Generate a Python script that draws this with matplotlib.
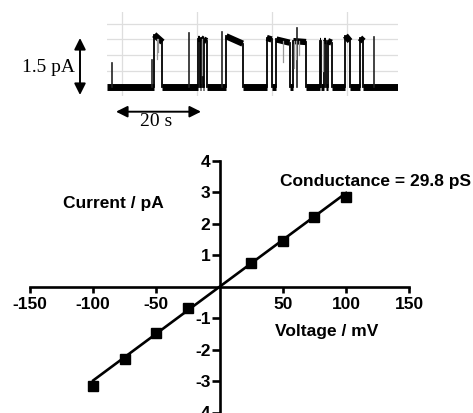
#!/usr/bin/env python3
# -*- coding: utf-8 -*-
"""单通道电流记录 + I-V 曲线"""

import numpy as np
import matplotlib
matplotlib.use('Agg')
import matplotlib.pyplot as plt

plt.rcParams['font.family'] = ['Liberation Sans', 'DejaVu Sans']
plt.rcParams['axes.unicode_minus'] = False

W, H = 473, 413

# ---- 上图：单通道记录 (时间 s, 电流 pA) ----
trace_start, trace_end = -4.0, 73.7
# 开放事件: (开始, 结束, 起始幅度, 结束幅度)
openings = [
    (8.6, 10.8, 1.65, 1.42),
    (20.4, 20.7, 1.50, 1.50),
    (21.0, 21.5, 1.55, 1.50),
    (21.8, 22.6, 1.50, 1.45),
    (27.8, 32.2, 1.60, 1.37),
    (38.6, 39.9, 1.55, 1.50),
    (41.2, 44.7, 1.50, 1.40),
    (45.7, 49.1, 1.45, 1.42),
    (52.8, 53.2, 1.45, 1.45),
    (53.8, 54.3, 1.45, 1.45),
    (54.9, 55.9, 1.45, 1.40),
    (59.6, 60.8, 1.62, 1.45),
    (63.5, 64.4, 1.55, 1.45),
]
# 短暂尖峰: (时间, 幅度)
spikes = [(-2.75, 0.75), (7.9, 0.87), (17.9, 1.70), (26.8, 1.73),
          (46.6, 1.85), (67.2, 1.57)]
# 部分关闭(灰色闪烁): (时间, 开放幅度, 最低幅度)
flickers = [(9.3, 1.5, 0.9), (9.6, 1.5, 1.1), (21.3, 1.5, 0.4),
            (43.0, 1.45, 0.8), (46.0, 1.45, 0.6), (46.3, 1.45, 0.9),
            (47.2, 1.45, 1.0), (53.5, 1.45, 0.5)]
grid_t = [0, 20, 40, 60]
grid_i = [0.5, 1.0, 1.5, 2.0]

# ---- 下图：I-V 数据 ----
voltage = [-100, -75, -50, -25, 25, 50, 75, 100]
current = [-3.16, -2.30, -1.46, -0.67, 0.76, 1.46, 2.21, 2.86]
conductance_pS = 29.8
x_ticks = [-150, -100, -50, 50, 100, 150]
y_ticks = [-4, -3, -2, -1, 1, 2, 3, 4]


def box(l, t, r, b):
    """像素坐标(左上原点) -> figure 坐标"""
    return [l / W, 1 - b / H, (r - l) / W, (b - t) / H]


fig = plt.figure(figsize=(W / 100, H / 100), dpi=100)

# ================= 上图 =================
ax1 = fig.add_axes(box(107, 11.7, 398.3, 96))
ax1.set_xlim(trace_start, trace_end)
ax1.set_ylim(-0.27, 2.37)
for s in ax1.spines.values():
    s.set_visible(False)
ax1.set_xticks([])
ax1.set_yticks([])
for t in grid_t:
    ax1.axvline(t, color='#dedede', lw=0.9, zorder=0)
for i in grid_i:
    ax1.axhline(i, color='#dedede', lw=0.9, zorder=0)

# 基线段 + 开放段
prev = trace_start
for (t0, t1, a0, a1) in openings:
    ax1.plot([prev, t0], [0, 0], color='black', lw=5, solid_capstyle='butt')
    ax1.plot([t0, t1], [a0, a1], color='black', lw=4.5, solid_capstyle='butt')
    ax1.plot([t0, t0], [0, a0], color='black', lw=1.3)
    ax1.plot([t1, t1], [a1, 0], color='black', lw=1.3)
    prev = t1
ax1.plot([prev, trace_end], [0, 0], color='black', lw=5, solid_capstyle='butt')
for (t, a) in spikes:
    ax1.plot([t, t], [0, a], color='#222222', lw=1.2)
for (t, a, lo) in flickers:
    ax1.plot([t, t], [lo, a], color='#999999', lw=0.9)


def fp(x, y):
    return (x, H - y)


serif = ['Liberation Serif', 'DejaVu Serif']
fig.text(48 / W, 1 - 68 / H, '1.5 pA', family=serif, fontsize=14,
         ha='center', va='center')
ax1.annotate('', xy=fp(80, 38), xytext=fp(80, 95),
             xycoords='figure pixels', textcoords='figure pixels',
             arrowprops=dict(arrowstyle='<|-|>', color='black', lw=1.4,
                             mutation_scale=17, shrinkA=0, shrinkB=0))
ax1.annotate('', xy=fp(116, 111.7), xytext=fp(201, 111.7),
             xycoords='figure pixels', textcoords='figure pixels',
             arrowprops=dict(arrowstyle='<|-|>', color='black', lw=1.4,
                             mutation_scale=17, shrinkA=0, shrinkB=0))
fig.text(156 / W, 1 - 122 / H, '20 s', family=serif, fontsize=14,
         ha='center', va='center')

# ================= 下图 =================
ax2 = fig.add_axes(box(30, 160.9, 409.3, 412.5))
ax2.set_xlim(-150, 150)
ax2.set_ylim(-4, 4)
ax2.spines['left'].set_position(('data', 0))
ax2.spines['bottom'].set_position(('data', 0))
ax2.spines['top'].set_visible(False)
ax2.spines['right'].set_visible(False)
for s in ('left', 'bottom'):
    ax2.spines[s].set_linewidth(1.9)
ax2.patch.set_visible(False)

ax2.set_xticks(x_ticks)
ax2.set_yticks(y_ticks)
ax2.tick_params(axis='x', direction='out', length=4.5, width=1.9, pad=3,
                labelsize=12.5)
ax2.tick_params(axis='y', direction='out', length=5.5, width=1.9, pad=1,
                labelsize=12.5)
for lab in ax2.get_xticklabels() + ax2.get_yticklabels():
    lab.set_fontweight('bold')

fit_v = np.array([min(voltage), max(voltage)])
ax2.plot(fit_v, fit_v * conductance_pS / 1000.0, color='black', lw=1.9,
         zorder=3)
ax2.plot(voltage, current, 's', color='black', markersize=7.5, zorder=4)

ax2.text(-84, 2.63, 'Current / pA', fontsize=12.5, fontweight='bold',
         ha='center', va='center')
ax2.text(84.5, -1.44, 'Voltage / mV', fontsize=12.5, fontweight='bold',
         ha='center', va='center')
ax2.text(48, 3.34, 'Conductance = %.1f pS' % conductance_pS, fontsize=12.5,
         fontweight='bold', ha='left', va='center', clip_on=False)

fig.savefig('out.png', dpi=100)
